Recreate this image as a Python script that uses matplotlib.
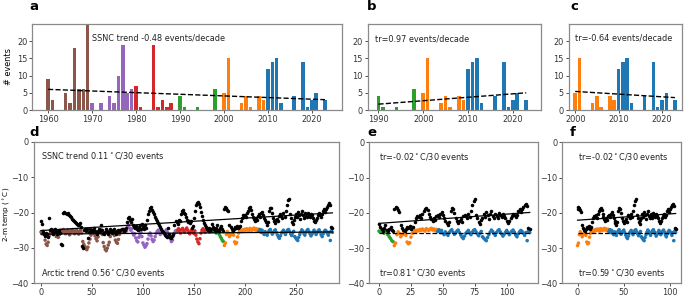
import numpy as np
import matplotlib
matplotlib.use("Agg")
import matplotlib.pyplot as plt

# ---------------- data ----------------
years = [1960, 1961, 1964, 1965, 1966, 1967, 1968, 1969,
         1970, 1972, 1974, 1975, 1976, 1977, 1978, 1979,
         1980, 1981, 1984, 1985, 1986, 1987, 1988,
         1990, 1991, 1994, 1998,
         2000, 2001, 2004, 2005, 2006, 2008, 2009,
         2010, 2011, 2012, 2013, 2016, 2018, 2019, 2020, 2021, 2023]
counts = [9, 3, 5, 2, 18, 6, 6, 35,
          2, 2, 4, 2, 10, 19, 5, 6,
          7, 1, 19, 1, 3, 1, 2,
          4, 1, 1, 6,
          5, 15, 2, 4, 1, 4, 3,
          12, 14, 15, 2, 4, 14, 1, 3, 5, 3]
decade_colors = {1960: '#8c564b', 1970: '#9467bd', 1980: '#d62728',
                 1990: '#2ca02c', 2000: '#ff7f0e', 2010: '#1f77b4', 2020: '#1f77b4'}

# count trend lines (start value, end value) over [start year, 2023]
count_trend_a = [6.0, 3.0]
count_trend_b = [1.7, 5.0]
count_trend_c = [5.4, 3.6]
bar_texts = ['SSNC trend -0.48 events/decade', 'tr=0.97 events/decade', 'tr=-0.64 events/decade']

# 2-m temperature per event: Arctic (black) and SSNC (coloured)
arctic = [
    -22.5, -23.2, -25.5, -26.2, -26.5, -25.8, -26.0, -26.8, -21.5, -25.0,
    -24.6, -25.2, -26.0, -25.5, -24.8, -25.3, -26.0, -25.6, -24.9, -25.8,
    -28.8, -29.3, -20.0, -19.8, -20.1, -20.3, -20.0, -20.6, -21.0, -21.4,
    -21.7, -22.0, -22.4, -22.8, -23.0, -23.3, -23.6, -23.4, -23.0, -24.0,
    -29.6, -30.1, -25.0, -24.6, -25.2, -24.8, -27.2, -25.5, -24.7, -25.0,
    -25.4, -24.9, -24.5, -25.1, -25.6, -26.0, -25.3, -24.8, -25.2, -23.5,
    -25.0, -25.8, -26.2, -25.4, -24.8, -25.2, -26.0, -25.5, -24.6, -25.3,
    -25.9, -25.0, -24.7, -25.6, -26.1, -25.2, -24.9, -25.5, -25.0, -24.8,
    -24.6, -25.3, -25.0, -24.4, -22.8, -21.5, -21.2, -22.0, -22.6, -21.8,
    -23.5, -24.2, -24.5, -23.8, -24.6, -25.0, -24.2, -23.6, -24.8, -23.2,
    -24.0, -24.7, -23.5, -24.3, -22.0, -20.5, -19.6, -18.8, -18.5, -19.2,
    -19.8, -20.5, -21.2, -21.8, -22.3, -22.9, -23.4, -24.0, -24.6, -25.1,
    -25.5, -25.9, -26.3, -26.6, -26.8, -24.5, -26.2, -26.9, -27.2, -26.5,
    -26.0, -23.5, -22.4, -22.8, -23.2, -22.0, -22.5, -20.5, -19.6, -19.4,
    -20.0, -20.3, -21.2, -22.2, -22.7, -22.3, -23.0, -22.5, -24.5, -23.8,
    -21.5, -19.5, -17.8, -17.3, -17.0, -17.6, -18.5, -19.8, -21.0, -22.2,
    -23.0, -23.6, -24.2, -24.8, -25.0, -24.4, -25.2, -24.6, -23.2, -24.0,
    -24.7, -25.1, -24.3, -23.6, -24.9, -25.3, -24.5, -23.9, -24.8, -25.2,
    -19.0, -18.4, -18.6, -19.2, -19.7, -23.5, -24.2, -24.8, -25.3, -24.6,
    -24.0, -24.3, -23.8, -24.5, -24.1, -23.9, -22.5, -21.6, -20.8, -21.2,
    -20.6, -21.4, -20.2, -19.5, -18.8, -18.5, -19.2, -20.4, -21.2, -21.8,
    -22.3, -21.5, -22.0, -21.0, -20.5, -21.3, -20.2, -19.8, -20.6, -21.5,
    -22.2, -22.8, -23.4, -22.6, -19.5, -18.6, -18.8, -20.0, -21.6, -22.4,
    -23.0, -22.2, -21.7, -22.5, -21.0, -20.5, -20.9, -21.6, -20.2, -21.3,
    -19.5, -17.8, -16.6, -16.2, -20.5, -21.5, -22.6, -23.2, -22.0, -21.4,
    -20.3, -21.2, -19.8, -20.6, -21.8, -20.4, -19.6, -20.8, -21.5, -20.2,
    -20.9, -21.4, -20.1, -20.6, -21.2, -20.4, -20.8, -21.6, -22.4, -22.8,
    -22.2, -21.6, -20.8, -20.2, -20.7, -21.3, -20.5, -19.6, -19.0, -19.8,
    -18.9, -18.4, -17.8, -17.4, -18.0, -24.2, -24.5,
]
ssnc = [
    -25.5, -26.0, -25.3, -26.2, -27.8, -28.9, -29.3, -28.4, -26.6, -25.8,
    -25.2, -26.0, -25.6, -24.9, -25.5, -26.8, -26.5, -27.0, -26.2, -25.4,
    -25.0, -25.6, -24.8, -25.3, -26.0, -25.4, -24.9, -25.7, -26.3, -25.1,
    -25.5, -24.8, -25.2, -26.0, -25.6, -25.0, -25.4, -26.1, -25.3, -24.9,
    -25.8, -28.2, -29.0, -29.6, -30.2, -30.5, -29.8, -28.6, -27.5, -26.4,
    -25.5, -25.0, -25.8, -26.6, -27.4, -28.0, -26.9, -25.6, -25.2, -24.9,
    -26.2, -28.5, -29.6, -30.4, -30.8, -30.1, -29.2, -28.4, -26.8, -25.6,
    -25.2, -25.8, -26.5, -27.8, -28.4, -28.7, -27.6, -26.2, -25.4, -25.0,
    -25.6, -25.1, -24.8, -25.3,
    -25.2, -24.0, -23.6, -24.4, -25.0, -24.6,
    -25.8, -26.4, -26.0, -27.2, -28.0, -28.3, -27.0, -26.2, -25.6, -26.8,
    -28.6, -29.2, -29.8, -29.4, -28.8, -27.5, -26.3, -25.8, -26.6, -27.6,
    -28.2, -27.8, -26.8, -25.9, -25.4, -25.0, -25.6, -26.2, -25.8, -25.2,
    -25.5, -26.0, -25.4, -24.9, -25.6, -26.4, -26.9, -27.5, -28.2, -27.8,
    -26.6, -25.8, -25.2, -25.5,
    -25.0, -24.6, -25.3, -25.8, -24.8, -24.5,
    -25.2, -25.6, -24.9, -24.4, -25.0, -25.7, -26.0, -25.3, -24.8, -25.4,
    -25.9, -25.2, -26.4, -27.5, -28.3, -28.8, -27.4, -25.8, -25.0, -24.6,
    -25.1, -25.6, -24.9, -24.4, -25.0, -25.5, -24.8, -25.2,
    -25.2, -25.4, -24.9, -25.3, -25.8, -25.0, -25.6, -26.2, -26.8, -27.3, -27.9, -28.2,
    -29.3, -28.6, -26.2, -25.4, -25.9, -26.8, -26.3, -26.0, -25.6, -26.4,
    -28.3, -28.8, -28.5, -26.9, -25.8, -25.3, -25.0, -25.4, -24.9, -25.1,
    -24.7, -25.0, -24.6, -24.9, -25.2, -24.5, -24.8, -25.0, -24.6, -24.4,
    -24.9, -24.6, -25.1, -24.7,
    -25.3, -24.8, -25.6, -25.0, -25.8, -26.2,
    -25.4, -25.9, -26.4, -25.6, -25.1, -24.8, -25.5, -26.1, -25.7, -25.2,
    -24.9, -25.6, -26.3, -26.9, -27.3, -26.6, -25.8, -25.4, -25.0, -25.7,
    -26.2, -25.5, -25.0, -24.8, -25.4, -26.0, -26.5, -25.8, -25.3, -26.8,
    -27.2, -27.6, -27.9, -27.0, -26.2, -25.5, -24.9, -25.3, -25.9, -26.4,
    -25.6, -25.1, -24.8, -25.4, -26.0, -26.6, -26.1, -25.5, -25.0, -25.6,
    -26.2, -25.7, -25.2, -24.9, -25.5, -26.3, -26.8, -26.0, -25.4, -25.0,
    -25.3, -25.8, -26.4, -25.6, -27.9, -25.2, -25.6,
]
# temperature trend lines (start, end) for each panel: arctic, ssnc
temp_trend_arctic = {'d': [-25.1, -20.1], 'e': [-23.0, -19.9], 'f': [-22.1, -20.2]}
temp_trend_ssnc = {'d': [-26.1, -25.5], 'e': [-25.8, -25.8], 'f': [-25.7, -25.7]}
top_texts = {'d': r'SSNC trend 0.11$^\circ$C/30 events', 'e': r'tr=-0.02$^\circ$C/30 events',
             'f': r'tr=-0.02$^\circ$C/30 events'}
bot_texts = {'d': r'Arctic trend 0.56$^\circ$C/30 events', 'e': r'tr=0.81$^\circ$C/30 events',
             'f': r'tr=0.59$^\circ$C/30 events'}

# ---------------- derived ----------------
bar_cols = [decade_colors[(y // 10) * 10] for y in years]
event_cols = []
event_years = []
for y, n, c in zip(years, counts, bar_cols):
    event_cols += [c] * n
    event_years += [y] * n
N = len(event_cols)
arctic = np.array(arctic[:N])
ssnc = np.array(ssnc[:N])
event_years = np.array(event_years)
event_cols = np.array(event_cols)

# ---------------- figure ----------------
W, H = 685, 298
fig = plt.figure(figsize=(W / 100, H / 100), dpi=100)

def box(x0, x1, y0, y1):
    return [x0 / W, 1 - y1 / H, (x1 - x0) / W, (y1 - y0) / H]

SP = '#8a8a8a'
FS = 5.9

def style(ax):
    for s in ax.spines.values():
        s.set_color(SP)
        s.set_linewidth(0.9)
    ax.tick_params(labelsize=FS, length=2.5, width=0.6, pad=1.0, colors='#333333')

def letter(x, y, t):
    fig.text(x / W, 1 - y / H, t, fontsize=9.5, fontweight='bold', ha='left', va='baseline')

# bar panels
bar_specs = [
    ('a', box(32.3, 341.7, 24, 110), 1960, (1956.4, 2026.8), count_trend_a, (1970, 20.8), 29, 10.5),
    ('b', box(367.7, 541, 24, 110), 1990, (1987.6, 2026.3), count_trend_b, (1989.3, 20.6), 367, 10.5),
    ('c', box(568.7, 682.3, 24, 110), 2000, (1998.5, 2024.7), count_trend_c, (2000.0, 20.8), 570, 10.5),
]
yrs = np.array(years)
cnts = np.array(counts)
for i, (lab, pos, y0, xl, tr, tpos, lx, ly) in enumerate(bar_specs):
    ax = fig.add_axes(pos)
    m = yrs >= y0
    ax.bar(yrs[m], cnts[m], width=0.8, color=np.array(bar_cols)[m])
    ax.plot([y0, 2023], tr, 'k--', lw=1.0)
    ax.set_xlim(*xl)
    ax.set_ylim(0, 25)
    ax.set_yticks([0, 5, 10, 15, 20])
    if lab == 'a':
        ax.set_xticks(np.arange(1960, 2021, 10))
        ax.set_ylabel('# events', fontsize=FS)
        ax.yaxis.set_label_coords(-0.062, 0.5)
    else:
        ax.set_xticks(np.arange(y0, 2021, 10))
    ax.text(tpos[0], tpos[1], bar_texts[i], fontsize=FS, va='center', ha='left', color='#222222')
    style(ax)
    letter(lx, ly, lab)

# temperature panels
temp_specs = [
    ('d', box(33.5, 339, 141.7, 283.3), 1960, (-7.4, 292.5), [0, 50, 100, 150, 200, 250], 29, 136),
    ('e', box(369.3, 538.3, 142.3, 283.3), 1990, (-7.6, 124.7), [0, 25, 50, 75, 100], 367, 136.5),
    ('f', box(562.0, 680.7, 142.3, 283.3), 2000, (-16.8, 111.5), [0, 50, 100], 570, 136.5),
]
for lab, pos, y0, xl, xt, lx, ly in temp_specs:
    ax = fig.add_axes(pos)
    m = event_years >= y0
    a_ = arctic[m]
    s_ = ssnc[m]
    c_ = event_cols[m]
    x = np.arange(len(a_))
    ax.scatter(x, s_, s=6.5, c=c_, linewidths=0, zorder=2)
    ax.scatter(x, a_, s=6.5, c='k', linewidths=0, zorder=3)
    ax.plot([x[0], x[-1]], temp_trend_arctic[lab], 'k-', lw=0.9, zorder=4)
    ls = '-' if lab == 'd' else '--'
    ax.plot([x[0], x[-1]], temp_trend_ssnc[lab], color='k', ls=ls, lw=0.9, zorder=4)
    ax.set_xlim(*xl)
    ax.set_ylim(-40, 0)
    ax.set_xticks(xt)
    ax.set_yticks([0, -10, -20, -30, -40])
    ax.text(0, -4, top_texts[lab], fontsize=FS, va='center', ha='left', color='#222222')
    ax.text(0, -37, bot_texts[lab], fontsize=FS, va='center', ha='left', color='#222222')
    style(ax)
    letter(lx, ly, lab)

fig.text(1.0 / W, 1 - 214 / H, r'2-m temp ($^\circ$C)', fontsize=5.2, rotation=90,
         ha='left', va='center')

fig.savefig('out.png', dpi=100)
